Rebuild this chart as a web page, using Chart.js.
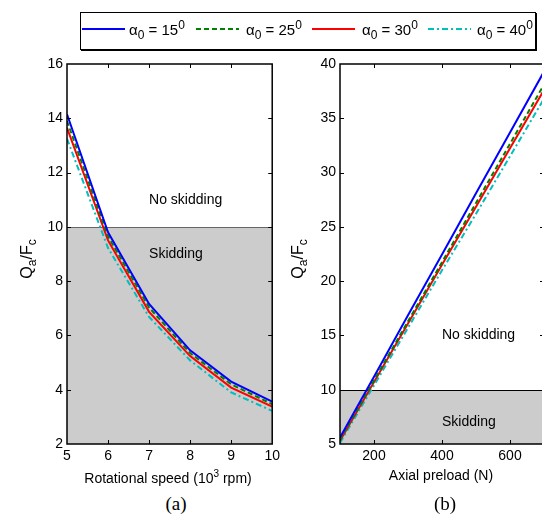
<!DOCTYPE html>
<html>
<head>
<meta charset="utf-8">
<script src="https://cdn.jsdelivr.net/npm/chart.js@4.4.1/dist/chart.umd.min.js"></script>
<style>
body { margin: 0; width: 542px; height: 515px; overflow: hidden; background: #fff; position: relative;
       font-family: "Liberation Sans", Arial, sans-serif; color: #000; }
canvas { position: absolute; top: 0; }
#c1 { left: 0; }
#c2 { left: 275px; }
.lbl { position: absolute; font-size: 14px; white-space: nowrap; transform: translate(-50%, -50%); }
.ytitle { font-size: 16px; transform: translate(-50%, -50%) rotate(-90deg); }
.ytitle sub { font-size: 12px; }
sub, sup { font-size: 10px; line-height: 0; }
.cap { font-family: "Liberation Serif", "Times New Roman", serif; font-size: 19px; }
#legend { position: absolute; left: 80px; top: 12px; width: 454px; height: 36px;
          border: 1px solid #000; box-shadow: 1px 1px 0 #000; background: #fff; }
#legendLines { position: absolute; left: 0; top: 0; }
.leg { position: absolute; top: 29px; font-size: 15px; white-space: nowrap; transform: translateY(-50%); }
.leg sub, .leg sup { font-size: 12px; }
</style>
</head>
<body>
<div id="legend"></div>
<svg id="legendLines" width="542" height="50"></svg>

<canvas id="c1" width="284" height="480"></canvas>
<canvas id="c2" width="275" height="480"></canvas>

<div class="lbl ytitle" style="left:27px; top:259px;">Q<sub>a</sub>/F<sub>c</sub></div>
<div class="lbl ytitle" style="left:298px; top:259px;">Q<sub>a</sub>/F<sub>c</sub></div>
<div class="lbl" style="left:168px; top:478px;">Rotational speed (10<sup>3</sup> rpm)</div>
<div class="lbl" style="left:441px; top:475px;">Axial preload (N)</div>
<div class="lbl cap" style="left:176px; top:504px;">(a)</div>
<div class="lbl cap" style="left:445px; top:504px;">(b)</div>

<script>
// contact angles (legend)
var angles = [15, 25, 30, 40];
var colors = ['#0000ff', '#008000', '#ff0000', '#00bfbf'];
var dashes = [[], [5, 3], [], [6, 3, 2, 3]];

// (a) Q/F vs rotational speed (10^3 rpm)
var speed = [5, 6, 7, 8, 9, 10];
var qfSpeed15 = [14.15, 9.8, 7.16, 5.45, 4.3, 3.56];
var qfSpeed25 = [13.9, 9.65, 7.03, 5.35, 4.2, 3.47];
var qfSpeed30 = [13.65, 9.5, 6.87, 5.24, 4.08, 3.38];
var qfSpeed40 = [13.25, 9.22, 6.68, 5.08, 3.9, 3.22];

// (b) Q/F vs axial preload (N)
var preload = [100, 200, 300, 400, 500, 600, 700];
var qfLoad15 = [5.6, 11.2, 16.85, 22.45, 28.1, 33.7, 39.3];
var qfLoad25 = [5.4, 10.85, 16.3, 21.75, 27.2, 32.65, 38.1];
var qfLoad30 = [5.3, 10.7, 16.1, 21.5, 26.85, 32.25, 37.6];
var qfLoad40 = [5.1, 10.4, 15.7, 21.0, 26.2, 31.5, 36.8];

// tick labels
var speedTicks = [5, 6, 7, 8, 9, 10];
var speedYTicks = [2, 4, 6, 8, 10, 12, 14, 16];
var loadTicks = [200, 400, 600];
var loadYTicks = [5, 10, 15, 20, 25, 30, 35, 40];

var skidLimit = 10;

// legend
var svg = document.getElementById('legendLines');
var lineX = [82, 196, 312, 428];
var textX = [129, 246, 362, 477];
angles.forEach(function (a, i) {
    var ln = document.createElementNS('http://www.w3.org/2000/svg', 'line');
    ln.setAttribute('x1', lineX[i]);
    ln.setAttribute('x2', lineX[i] + 43);
    ln.setAttribute('y1', 29);
    ln.setAttribute('y2', 29);
    ln.setAttribute('stroke', colors[i]);
    ln.setAttribute('stroke-width', 2);
    if (dashes[i].length) ln.setAttribute('stroke-dasharray', dashes[i].join(','));
    svg.appendChild(ln);
    var t = document.createElement('div');
    t.className = 'leg';
    t.style.left = textX[i] + 'px';
    t.innerHTML = '&alpha;<sub>0</sub> = ' + a + '<sup>0</sup>';
    document.body.appendChild(t);
});

function points(xs, ys) {
    return xs.map(function (x, i) { return { x: x, y: ys[i] }; });
}

function makeSets(xs, series) {
    return series.map(function (ys, i) {
        return {
            data: points(xs, ys),
            borderColor: colors[i],
            borderDash: dashes[i],
            borderWidth: 2,
            pointRadius: 0,
            tension: 0,
            fill: false
        };
    });
}

var skidPlugin = {
    id: 'skid',
    beforeDatasetsDraw: function (chart, args, opts) {
        var ctx = chart.ctx, a = chart.chartArea;
        var x = chart.scales.x, y = chart.scales.y;
        var yl = Math.round(y.getPixelForValue(skidLimit));
        ctx.save();
        ctx.fillStyle = '#cccccc';
        ctx.fillRect(a.left, yl, a.right - a.left, a.bottom - yl);
        ctx.strokeStyle = opts.lineColor;
        ctx.lineWidth = 1;
        ctx.beginPath();
        ctx.moveTo(a.left, yl + 0.5);
        ctx.lineTo(a.right, yl + 0.5);
        ctx.stroke();
        ctx.fillStyle = '#000';
        ctx.font = '14px "Liberation Sans", Arial, sans-serif';
        ctx.textAlign = 'left';
        ctx.textBaseline = 'middle';
        ctx.fillText('No skidding', x.getPixelForValue(opts.textX), y.getPixelForValue(opts.upperY));
        ctx.fillText('Skidding', x.getPixelForValue(opts.textX), y.getPixelForValue(opts.lowerY));
        ctx.restore();
    },
    afterDraw: function (chart) {
        var ctx = chart.ctx, a = chart.chartArea;
        var x = chart.scales.x, y = chart.scales.y;
        ctx.save();
        ctx.strokeStyle = '#000';
        ctx.lineWidth = 1.5;
        ctx.strokeRect(a.left, a.top, a.right - a.left, a.bottom - a.top);
        ctx.lineWidth = 1;
        ctx.beginPath();
        x.ticks.forEach(function (t) {
            var px = Math.round(x.getPixelForValue(t.value)) + 0.5;
            if (px <= a.left + 1 || px >= a.right - 1) return;
            ctx.moveTo(px, a.bottom); ctx.lineTo(px, a.bottom - 4);
            ctx.moveTo(px, a.top); ctx.lineTo(px, a.top + 4);
        });
        y.ticks.forEach(function (t) {
            var py = Math.round(y.getPixelForValue(t.value)) + 0.5;
            if (py <= a.top + 1 || py >= a.bottom - 1) return;
            ctx.moveTo(a.left, py); ctx.lineTo(a.left + 4, py);
            ctx.moveTo(a.right, py); ctx.lineTo(a.right - 4, py);
        });
        ctx.stroke();
        ctx.restore();
    }
};

function axes(xmin, xmax, xTicks, ymin, ymax, yTicks, yWidth) {
    var font = { family: '"Liberation Sans", Arial, sans-serif', size: 14 };
    return {
        x: {
            type: 'linear', min: xmin, max: xmax,
            afterBuildTicks: function (s) { s.ticks = xTicks.map(function (v) { return { value: v }; }); },
            afterFit: function (s) { s.height = 36; },
            ticks: { font: font, color: '#000', padding: 4, maxRotation: 0 },
            grid: { display: false, drawTicks: false },
            border: { display: false }
        },
        y: {
            type: 'linear', min: ymin, max: ymax,
            afterBuildTicks: function (s) { s.ticks = yTicks.map(function (v) { return { value: v }; }); },
            afterFit: function (s) { s.width = yWidth; },
            ticks: { font: font, color: '#000', padding: 4 },
            grid: { display: false, drawTicks: false },
            border: { display: false }
        }
    };
}

new Chart(document.getElementById('c1'), {
    type: 'line',
    data: { datasets: makeSets(speed, [qfSpeed15, qfSpeed25, qfSpeed30, qfSpeed40]) },
    options: {
        responsive: false,
        animation: false,
        layout: { padding: { top: 64, right: 0, left: 0, bottom: 0 } },
        plugins: {
            legend: { display: false },
            tooltip: { enabled: false },
            skid: { lineColor: '#666', textX: 7, upperY: 11, lowerY: 9 }
        },
        scales: axes(5, 10, speedTicks, 2, 16, speedYTicks, 67)
    },
    plugins: [skidPlugin]
});

new Chart(document.getElementById('c2'), {
    type: 'line',
    data: { datasets: makeSets(preload, [qfLoad15, qfLoad25, qfLoad30, qfLoad40]) },
    options: {
        responsive: false,
        animation: false,
        layout: { padding: { top: 64, right: 6, left: 0, bottom: 0 } },
        plugins: {
            legend: { display: false },
            tooltip: { enabled: false },
            skid: { lineColor: '#000', textX: 400, upperY: 15, lowerY: 7 }
        },
        scales: axes(100, 700, loadTicks, 5, 40, loadYTicks, 65)
    },
    plugins: [skidPlugin]
});
</script>
</body>
</html>
